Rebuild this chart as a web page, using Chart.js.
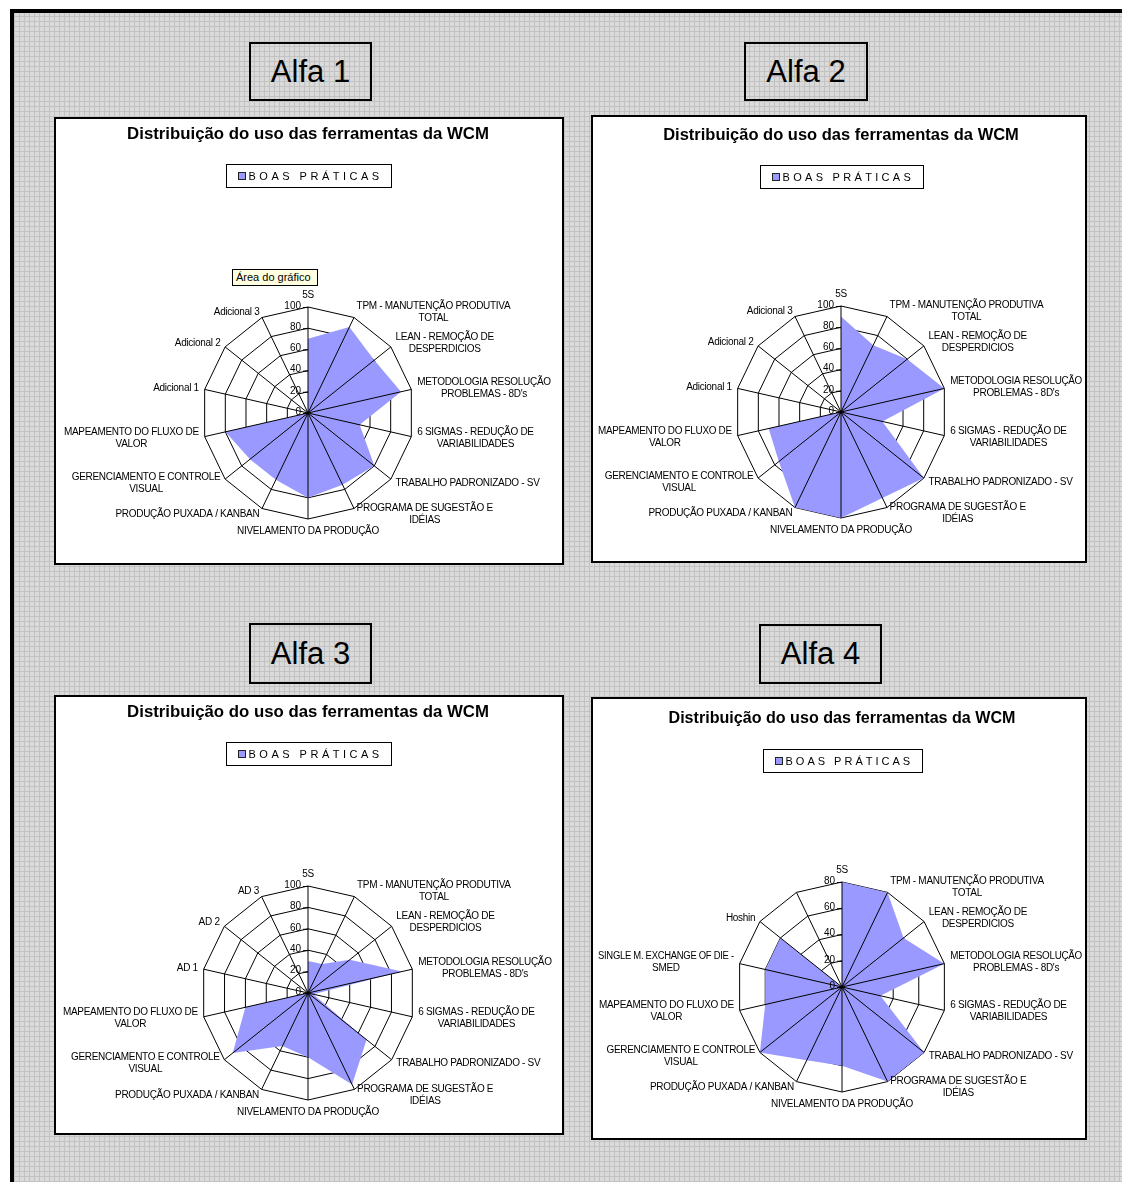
<!DOCTYPE html>
<html>
<head>
<meta charset="UTF-8" />
<title>Distribuição do uso das ferramentas da WCM</title>
<style>
  body { margin: 0; width: 1122px; height: 1182px; position: relative; overflow: hidden; background: #fff;
         font-family: "Liberation Sans", Arial, sans-serif; }
  #sheet { position: absolute; left: 10px; top: 9px; width: 1112px; height: 1173px; box-sizing: border-box;
           border-left: 4px solid #000; border-top: 4px solid #000; background-color: #dadada;
           background-image: repeating-linear-gradient(0deg, #c2c2c2 0 1px, transparent 1px 5px),
                             repeating-linear-gradient(90deg, #c2c2c2 0 1px, transparent 1px 5px); }
  .tag { position: absolute; box-sizing: border-box; border: 2px solid #000; font-size: 31px; color: #000;
         display: flex; align-items: center; justify-content: center; }
  .box { position: absolute; box-sizing: border-box; border: 2px solid #000; background: #fff; }
  .box canvas { display: block; }
  #tip { position: absolute; left: 232px; top: 269px; width: 86px; height: 17px; box-sizing: border-box;
         border: 1px solid #000; background: #ffffe1; font-size: 11px; line-height: 15px; padding-left: 3px; }
</style>
</head>
<body>
  <div id="sheet"></div>

  <div class="tag" style="left:249px; top:42px; width:123px; height:59px;">Alfa 1</div>
  <div class="tag" style="left:744px; top:42px; width:124px; height:59px;">Alfa 2</div>
  <div class="tag" style="left:249px; top:623px; width:123px; height:61px;">Alfa 3</div>
  <div class="tag" style="left:759px; top:624px; width:123px; height:60px;">Alfa 4</div>

  <div class="box" style="left:54px; top:117px; width:510px; height:448px;"><canvas id="alfa1" width="506" height="444"></canvas></div>
  <div class="box" style="left:591px; top:115px; width:496px; height:448px;"><canvas id="alfa2" width="492" height="444"></canvas></div>
  <div class="box" style="left:54px; top:695px; width:510px; height:440px;"><canvas id="alfa3" width="506" height="436"></canvas></div>
  <div class="box" style="left:591px; top:697px; width:496px; height:443px;"><canvas id="alfa4" width="492" height="439"></canvas></div>

  <div id="tip">Área do gráfico</div>

  <script src="https://cdn.jsdelivr.net/npm/chart.js"></script>
  <script>
    const chartTitle = 'Distribuição do uso das ferramentas da WCM';
    const seriesName = 'BOAS PRÁTICAS';

    // categories (multi-line labels as arrays)
    const baseCategories = [
      ['5S'],
      ['TPM - MANUTENÇÃO PRODUTIVA', 'TOTAL'],
      ['LEAN - REMOÇÃO DE', 'DESPERDICIOS'],
      ['METODOLOGIA RESOLUÇÃO', "PROBLEMAS - 8D's"],
      ['6 SIGMAS - REDUÇÃO DE', 'VARIABILIDADES'],
      ['TRABALHO PADRONIZADO - SV'],
      ['PROGRAMA DE SUGESTÃO E', 'IDÉIAS'],
      ['NIVELAMENTO DA PRODUÇÃO'],
      ['PRODUÇÃO PUXADA / KANBAN'],
      ['GERENCIAMENTO E CONTROLE', 'VISUAL'],
      ['MAPEAMENTO DO FLUXO DE', 'VALOR']
    ];
    const alfa1Categories = baseCategories.concat([['Adicional 1'], ['Adicional 2'], ['Adicional 3']]);
    const alfa2Categories = baseCategories.concat([['Adicional 1'], ['Adicional 2'], ['Adicional 3']]);
    const alfa3Categories = baseCategories.concat([['AD 1'], ['AD 2'], ['AD 3']]);
    const alfa4Categories = baseCategories.concat([['SINGLE M. EXCHANGE OF DIE -', 'SMED'], ['Hoshin'], ['']]);

    // series values
    const alfa1Values = [70, 90, 80, 90, 50, 80, 75, 80, 70, 70, 80, 0, 0, 0];
    const alfa2Values = [90, 70, 80, 100, 40, 100, 90, 100, 100, 75, 70, 0, 0, 0];
    const alfa3Values = [30, 30, 50, 90, 5, 70, 95, 60, 55, 90, 60, 0, 0, 0];
    const alfa4Values = [80, 80, 60, 80, 30, 80, 80, 60, 62, 80, 60, 60, 60, 0];

    // value axis: max per chart, step 20
    const alfa1Max = 100, alfa2Max = 100, alfa3Max = 100, alfa4Max = 80;
    const tickStep = 20;

    const fillColor = '#9999ff';
    const labelFont = '10px "Liberation Sans", Arial, sans-serif';

    // Excel-like drawing: spokes over the fill, value axis labels, category labels, boxed legend
    const excelRadar = {
      id: 'excelRadar',
      afterDatasetsDraw(chart) {
        const ctx = chart.ctx;
        const scale = chart.scales.r;
        const n = chart.data.labels.length;
        ctx.save();
        ctx.strokeStyle = '#000';
        ctx.lineWidth = 1;
        for (let i = 0; i < n; i++) {
          const p = scale.getPointPosition(i, scale.drawingArea);
          ctx.beginPath();
          ctx.moveTo(scale.xCenter, scale.yCenter);
          ctx.lineTo(p.x, p.y);
          ctx.stroke();
        }

        ctx.font = labelFont;
        ctx.fillStyle = '#000';
        ctx.textAlign = 'right';
        ctx.textBaseline = 'middle';
        scale.ticks.forEach(t => {
          const y = scale.yCenter - scale.getDistanceFromCenterForValue(t.value);
          ctx.beginPath();
          ctx.moveTo(scale.xCenter - 5, y + 0.5);
          ctx.lineTo(scale.xCenter, y + 0.5);
          ctx.stroke();
          ctx.fillText(t.label, scale.xCenter - 7, y - 1);
        });

        ctx.letterSpacing = '-0.3px';
        const W = chart.width;
        chart.data.labels.forEach((lines, i) => {
          const p = scale.getPointPosition(i, scale.drawingArea + 6);
          const deg = scale.getIndexAngle(i) * 180 / Math.PI;
          let blockW = Math.max(...lines.map(l => ctx.measureText(l).width));
          const lh = 12;
          let x0, y0;
          if (deg < 1 || deg > 359) {
            x0 = p.x - blockW / 2;
            y0 = p.y - lines.length * lh;
          } else if (Math.abs(deg - 180) < 1) {
            x0 = p.x - blockW / 2;
            y0 = p.y;
          } else if (deg < 180) {
            x0 = p.x;
            y0 = p.y - lines.length * lh / 2;
            blockW = Math.min(blockW, W - 3 - x0);
          } else {
            const right = p.x;
            blockW = Math.min(blockW, right - 5);
            x0 = right - blockW;
            y0 = p.y - lines.length * lh / 2;
          }
          ctx.textAlign = 'center';
          lines.forEach((l, k) => ctx.fillText(l, x0 + blockW / 2, y0 + k * lh + lh / 2, blockW));
        });
        ctx.restore();
      },
      afterDraw(chart, args, opts) {
        const ctx = chart.ctx;
        const scale = chart.scales.r;
        const ds = chart.data.datasets[0];
        ctx.save();
        ctx.font = '11px "Liberation Sans", Arial, sans-serif';
        ctx.letterSpacing = opts.spacing + 'px';
        const tw = ctx.measureText(ds.label).width;
        const w = Math.round(tw + 31), h = 23;
        const x = Math.round(scale.xCenter - w / 2) + 0.5, y = opts.legendTop + 0.5;
        ctx.fillStyle = '#fff';
        ctx.fillRect(x, y, w, h);
        ctx.strokeStyle = '#000';
        ctx.lineWidth = 1;
        ctx.strokeRect(x, y, w, h);
        ctx.fillStyle = ds.backgroundColor;
        ctx.fillRect(x + 12, y + 8, 7, 7);
        ctx.strokeStyle = '#222';
        ctx.strokeRect(x + 12, y + 8, 7, 7);
        ctx.fillStyle = '#000';
        ctx.textAlign = 'left';
        ctx.textBaseline = 'middle';
        ctx.fillText(ds.label, x + 22, y + h / 2 + 0.5);
        ctx.restore();
      }
    };

    // cx, cy, r: radar centre/radius inside the canvas; titleY: title centre
    function makeChart(id, categories, values, max, geo) {
      const canvas = document.getElementById(id);
      const W = canvas.width, H = canvas.height;
      const lineH = 20;
      return new Chart(canvas, {
        type: 'radar',
        data: {
          labels: categories,
          datasets: [{
            label: seriesName,
            data: values,
            backgroundColor: fillColor,
            borderColor: 'rgba(0,0,0,0)',
            borderWidth: 1,
            pointRadius: 0,
            fill: true,
            clip: false
          }]
        },
        options: {
          responsive: false,
          animation: false,
          events: [],
          layout: {
            padding: {
              left: Math.max(0, 2 * geo.cx - W),
              right: Math.max(0, W - 2 * geo.cx),
              top: 0,
              bottom: H - (geo.cy + geo.r)
            }
          },
          plugins: {
            legend: { display: false },
            tooltip: { enabled: false },
            title: {
              display: true,
              text: chartTitle,
              color: '#000',
              font: { family: '"Liberation Sans", Arial, sans-serif', size: geo.titleSize, weight: 'bold', lineHeight: lineH + 'px' },
              padding: { top: geo.titleY - lineH / 2, bottom: (geo.cy - geo.r) - (geo.titleY + lineH / 2) }
            },
            excelRadar: { legendTop: geo.titleY + 30, spacing: geo.legendSpacing }
          },
          scales: {
            r: {
              min: 0,
              max: max,
              ticks: { display: false, stepSize: tickStep },
              pointLabels: { display: false },
              angleLines: { display: false },
              grid: { circular: false, color: '#000', lineWidth: 1 }
            }
          }
        },
        plugins: [excelRadar]
      });
    }

    makeChart('alfa1', alfa1Categories, alfa1Values, alfa1Max, { cx: 252, cy: 294, r: 106, titleY: 15, titleSize: 16.8, legendSpacing: 3.5 });
    makeChart('alfa2', alfa2Categories, alfa2Values, alfa2Max, { cx: 248, cy: 295, r: 106, titleY: 18, titleSize: 16.5, legendSpacing: 3.3 });
    makeChart('alfa3', alfa3Categories, alfa3Values, alfa3Max, { cx: 252, cy: 296, r: 107, titleY: 15, titleSize: 16.8, legendSpacing: 3.5 });
    makeChart('alfa4', alfa4Categories, alfa4Values, alfa4Max, { cx: 249, cy: 288, r: 105, titleY: 20, titleSize: 16.1, legendSpacing: 3.0 });
  </script>
</body>
</html>
